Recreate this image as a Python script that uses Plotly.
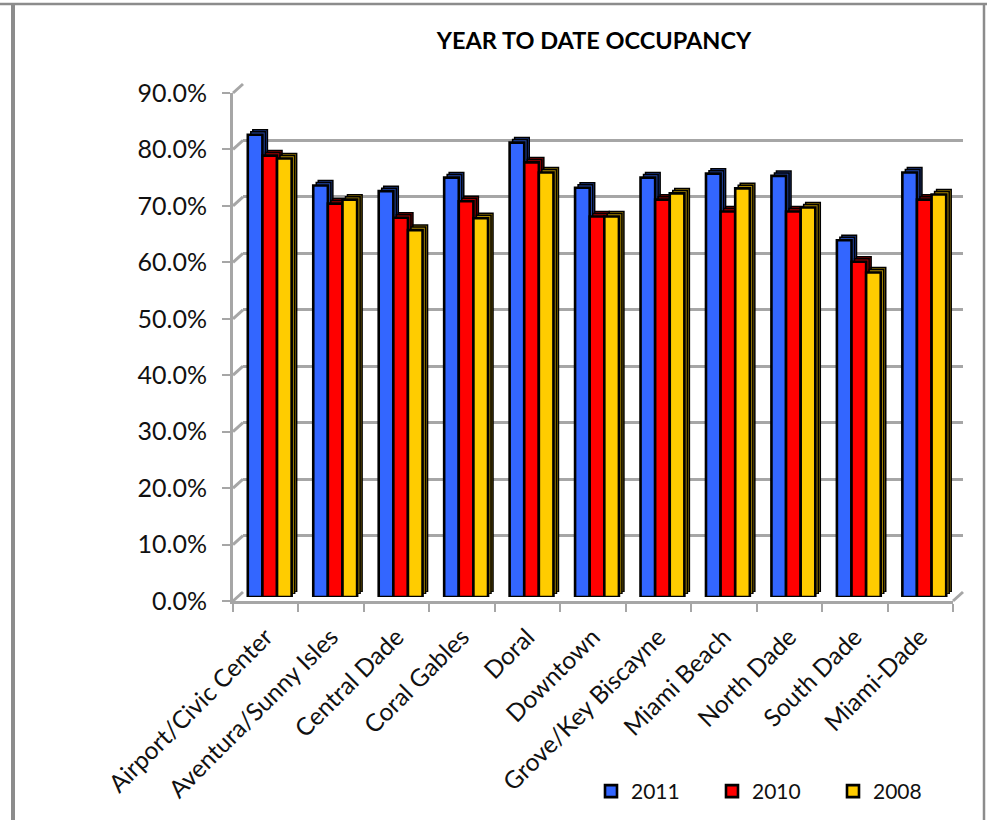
import plotly.graph_objects as go

categories = ["Airport/Civic Center", "Aventura/Sunny Isles", "Central Dade", "Coral Gables", "Doral",
              "Downtown", "Grove/Key Biscayne", "Miami Beach", "North Dade", "South Dade", "Miami-Dade"]
v2011 = [81.9, 72.9, 71.9, 74.3, 80.5, 72.5, 74.3, 75.0, 74.6, 63.2, 75.2]
v2010 = [78.2, 69.7, 67.2, 70.1, 77.0, 67.4, 70.4, 68.3, 68.3, 59.4, 70.4]
v2008 = [77.7, 70.4, 65.0, 67.1, 75.2, 67.4, 71.5, 72.4, 69.0, 57.5, 71.3]
series_names = ["2011", "2010", "2008"]
series_values = [v2011, v2010, v2008]
front_colors = ["#3366FF", "#FF0000", "#FFCC00"]
side_colors = ["#2347A8", "#A00000", "#A88600"]
y_ticks = [0, 10, 20, 30, 40, 50, 60, 70, 80, 90]
y_tick_labels = ["0.0%", "10.0%", "20.0%", "30.0%", "40.0%", "50.0%", "60.0%", "70.0%", "80.0%", "90.0%"]

W, H = 987, 820
FONT = "Lato, 'Open Sans', sans-serif"
GRID = "#A6A6A6"
L, R, T, B = 233, 953, 93, 601


def dom(dx, dy):
    return [(L + dx) / W, (R + dx) / W], [1 - (B + dy) / H, 1 - (T + dy) / H]


fig = go.Figure()
layout = {}


def add_axes(n, dx, dy, **kw):
    xd, yd = dom(dx, dy)
    sfx = "" if n == 1 else str(n)
    base = dict(range=[-0.5, 10.5], domain=xd, anchor="y" + sfx, type="category", automargin=False,
                categoryorder="array", categoryarray=categories,
                showticklabels=False, showgrid=False, zeroline=False, ticks="", showline=False)
    ybase = dict(range=[0, 90], domain=yd, anchor="x" + sfx, showticklabels=False, automargin=False,
                 showgrid=False, zeroline=False, ticks="", showline=False)
    base.update(kw.get("x", {}))
    ybase.update(kw.get("y", {}))
    layout["xaxis" + sfx] = base
    layout["yaxis" + sfx] = ybase
    return "x" + sfx, "y" + sfx


# back wall with gridlines
xa, ya = add_axes(1, 10, -9, y=dict(showgrid=True, gridcolor=GRID, gridwidth=3,
                                    tickmode="array", tickvals=y_ticks))
fig.add_trace(go.Scatter(x=categories, y=[None] * 11, xaxis=xa, yaxis=ya, showlegend=False, hoverinfo="skip"))

# extruded depth layers, then the front faces
layers = [(9, -9), (7, -7)]
n = 2
for dx, dy in layers:
    xa, ya = add_axes(n, dx, dy)
    n += 1
    for name, vals, col in zip(series_names, series_values, side_colors):
        fig.add_trace(go.Bar(x=categories, y=vals, name=name, xaxis=xa, yaxis=ya, showlegend=False,
                             marker=dict(color=col, line=dict(color="#000000", width=1.5)),
                             offsetgroup=name, hoverinfo="skip"))

xa, ya = add_axes(n, 4, -4)
n += 1
for name, vals, col in zip(series_names, series_values, front_colors):
    fig.add_trace(go.Bar(x=categories, y=vals, name=name, xaxis=xa, yaxis=ya,
                         marker=dict(color=col, line=dict(color="#000000", width=2.6)),
                         offsetgroup=name))

# front axes with ticks and labels
xa, ya = add_axes(n, 0, 0,
                  x=dict(showline=True, linecolor=GRID, linewidth=3, ticks="outside", ticklen=8, tickwidth=1.5,
                         tickcolor=GRID, tickson="boundaries", showticklabels=True, tickangle=-45,
                         ticklabelstandoff=9,
                         tickfont=dict(family=FONT, size=24.5, color="#111111")),
                  y=dict(showline=True, linecolor=GRID, linewidth=3, ticks="outside", ticklen=8, tickwidth=1.5,
                         tickcolor=GRID, tickmode="array", tickvals=y_ticks, ticktext=y_tick_labels,
                         ticklabelstandoff=10,
                         showticklabels=True, tickfont=dict(family=FONT, size=25, color="#111111")))
fig.add_trace(go.Scatter(x=categories, y=[None] * 11, xaxis=xa, yaxis=ya, showlegend=False, hoverinfo="skip"))


def seg(x0, y0, x1, y1, color=GRID, width=3, layer="below"):
    return dict(type="line", xref="paper", yref="paper", x0=x0 / W, x1=x1 / W, y0=1 - y0 / H, y1=1 - y1 / H,
                line=dict(color=color, width=width), layer=layer)


scale = (B - T) / 90
shapes = [seg(L, B - t * scale, L + 10, B - t * scale - 9) for t in y_ticks]
shapes.append(seg(R, B, R + 10, B - 9))
# page frame
FRAME = "#8C8C8C"
shapes.append(seg(0, 4, W, 4, FRAME, 2.5))
shapes.append(seg(13, 4, 13, H, FRAME, 4))
shapes.append(seg(984, 4, 984, H, FRAME, 2.5))

fig.update_layout(
    width=W, height=H, margin=dict(l=0, r=0, t=0, b=0), autosize=False,
    paper_bgcolor="#FFFFFF", plot_bgcolor="rgba(0,0,0,0)",
    barmode="group", bargap=0.33, bargroupgap=0,
    shapes=shapes,
    title=dict(text="<b>YEAR TO DATE OCCUPANCY</b>", x=594 / W, xanchor="center", y=1 - 41 / H, yanchor="middle",
               font=dict(family=FONT, size=23.5, color="#000000")),
    legend=dict(orientation="h", x=591 / W, y=1 - 771 / H, xanchor="left", yanchor="top",
                entrywidth=76, entrywidthmode="pixels", bgcolor="rgba(0,0,0,0)", itemclick=False, itemdoubleclick=False,
                font=dict(family=FONT, size=21, color="#111111")),
    **layout,
)

fig.write_html("out.html", config={"displayModeBar": False},
               post_script="document.body.style.margin='0';document.body.style.overflow='hidden';")
